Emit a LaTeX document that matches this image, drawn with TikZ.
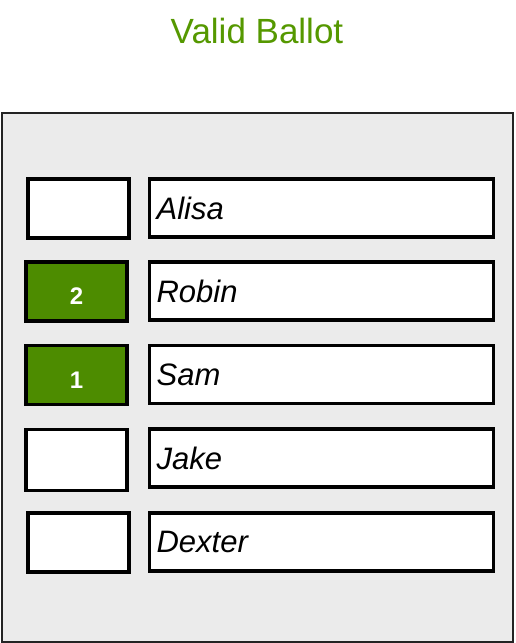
\documentclass[tikz,border=0pt]{standalone}
\usepackage{fontspec}
\setmainfont{Liberation Sans}
\definecolor{ballotbg}{RGB}{235, 235, 235}
\definecolor{frame}{RGB}{35, 35, 35}
\definecolor{mark}{RGB}{77, 140, 0}
\definecolor{titlegreen}{RGB}{85, 152, 0}
\usetikzlibrary{positioning}

\tikzset{
    checkbox/.style={draw=black, line width=3.2pt, fill=white, minimum width=101pt, minimum height=59pt, inner sep=0pt},
    voted/.style={checkbox, fill=mark, text=white, font=\fontsize{24}{28}\selectfont\bfseries},
    namebox/.style={draw=black, line width=3.2pt, fill=white, anchor=west, minimum height=58pt,
        text width=330pt, inner xsep=7pt, inner ysep=0pt, align=left, font=\fontsize{31}{37}\selectfont\itshape},
}

\begin{document}
\begin{tikzpicture}[x=1pt, y=-1pt]
    \useasboundingbox (0,0) rectangle (515,643);
    \node[text=titlegreen, font=\fontsize{35}{42}\selectfont] (title) at (257,31) {Valid Ballot};
    \node[draw=frame, line width=2pt, fill=ballotbg, minimum width=511pt, minimum height=529pt, inner sep=0pt] (ballot) at (257,377) {};

    \node[checkbox] (chk-alisa) at (78.5,208.5) {};
    \node[voted] (chk-robin) at (76.5,291.5) {\raisebox{-13pt}[0pt][0pt]{2}};
    \node[voted] (chk-sam) at (76.5,375) {\raisebox{-13pt}[0pt][0pt]{1}};
    \node[checkbox, minimum height=61pt] (chk-jake) at (76.5,460) {};
    \node[checkbox] (chk-dexter) at (78.5,542.5) {};

    \node[namebox] (name-alisa) at (148,208) {Alisa};
    \node[namebox] (name-robin) at (148,291) {Robin};
    \node[namebox] (name-sam) at (148,374.5) {Sam};
    \node[namebox] (name-jake) at (148,458) {Jake};
    \node[namebox] (name-dexter) at (148,542) {Dexter};
\end{tikzpicture}
\end{document}
